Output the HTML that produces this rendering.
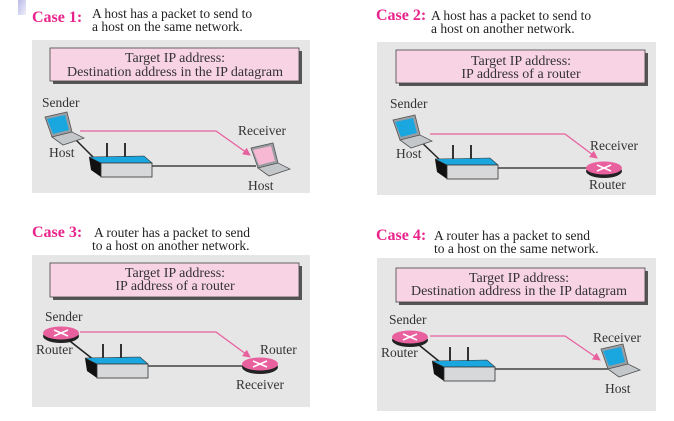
<!DOCTYPE html>
<html><head><meta charset="utf-8"><style>
html,body{margin:0;padding:0;background:#fff;width:674px;height:421px;overflow:hidden}
svg{display:block}
text{font-family:"Liberation Serif",serif;fill:#222}
.t{font-size:16px;font-weight:bold;fill:#e8248c}
.d{font-size:13.5px}
.l{font-size:13.5px;fill:#333}
.p{font-size:14px;fill:#333}
</style></head><body>
<svg width="674" height="421" viewBox="0 0 674 421" xmlns="http://www.w3.org/2000/svg">
<defs>
<linearGradient id="g" x1="0" y1="0" x2="1" y2="1"><stop offset="0" stop-color="#b9b9e8"/><stop offset="1" stop-color="#f0f0fb"/></linearGradient>
<marker id="ar" markerWidth="8" markerHeight="8" refX="7" refY="4" orient="auto" markerUnits="userSpaceOnUse"><path d="M0,0 L8,4 L0,8 z" fill="#e8609e"/></marker>
<g id="hub">
<path d="M0,1 L12,7 L12,21 L2,14 z" fill="#111"/>
<path d="M0,1 L55,0 L63,7 L12,7 z" fill="#1aa7e0" stroke="#333" stroke-width="0.6"/>
<rect x="12" y="7" width="51" height="14" fill="#d6d8da" stroke="#333" stroke-width="0.8"/>
<line x1="18" y1="-13" x2="18" y2="1" stroke="#333" stroke-width="2"/>
<line x1="36" y1="-13" x2="36" y2="1" stroke="#333" stroke-width="2"/>
</g>
<g id="lapB">
<path d="M1,0 L23,-5 L28,15 L8,20 z" fill="#9a9ea2" stroke="#555" stroke-width="0.8"/>
<path d="M3,2 L21,-2 L25,13 L9,17 z" fill="#1aa7e0"/>
<path d="M8,20 L28,15 L40,21 L19,28 z" fill="#c4c7ca" stroke="#555" stroke-width="0.8"/>
</g>
<g id="lapP">
<path d="M1,0 L23,-5 L28,15 L8,20 z" fill="#9a9ea2" stroke="#555" stroke-width="0.8"/>
<path d="M3,2 L21,-2 L25,13 L9,17 z" fill="#f6b8d2"/>
<path d="M8,20 L28,15 L40,21 L19,28 z" fill="#c4c7ca" stroke="#555" stroke-width="0.8"/>
</g>
<g id="rt">
<ellipse cx="0" cy="3" rx="18" ry="7" fill="#222"/>
<ellipse cx="0" cy="0" rx="18" ry="6.5" fill="#e8609e"/>
<path d="M-7,-3 L7,3 M-7,3 L7,-3" stroke="#fff" stroke-width="1.5"/>
</g>
</defs>
<rect x="18" y="0" width="8" height="15" fill="url(#g)"/>

<!-- Panel 1 -->
<text class="t" x="32" y="22">Case 1:</text>
<text class="d" x="92" y="18">A host has a packet to send to</text>
<text class="d" x="92" y="31">a host on the same network.</text>
<rect x="32" y="40" width="278" height="153" fill="#e6e6e6"/>
<rect x="53" y="51" width="249" height="33" fill="#555"/>
<rect x="50" y="48" width="249" height="33" fill="#f8d3e4" stroke="#444" stroke-width="0.8"/>
<text class="p" x="175" y="62" text-anchor="middle">Target IP address:</text>
<text class="p" x="175" y="76" text-anchor="middle">Destination address in the IP datagram</text>
<text class="l" x="42" y="107">Sender</text>
<text class="l" x="49" y="157">Host</text>
<text class="l" x="238" y="135">Receiver</text>
<text class="l" x="248" y="190">Host</text>
<line x1="70" y1="134" x2="96" y2="160" stroke="#222" stroke-width="1.5"/>
<line x1="152" y1="166" x2="256" y2="166" stroke="#222" stroke-width="1.2"/>
<use href="#lapB" x="44" y="117"/>
<use href="#hub" x="89" y="156"/>
<use href="#lapP" x="250" y="148"/>
<polyline points="80,131 216,131 250,155" fill="none" stroke="#e8609e" stroke-width="1.3" marker-end="url(#ar)"/>

<!-- Panel 2 -->
<text class="t" x="376" y="20">Case 2:</text>
<text class="d" x="431" y="20">A host has a packet to send to</text>
<text class="d" x="431" y="33">a host on another network.</text>
<rect x="377" y="42" width="279" height="153" fill="#e6e6e6"/>
<rect x="399" y="53" width="249" height="33" fill="#555"/>
<rect x="396" y="50" width="249" height="33" fill="#f8d3e4" stroke="#444" stroke-width="0.8"/>
<text class="p" x="521" y="65" text-anchor="middle">Target IP address:</text>
<text class="p" x="521" y="78" text-anchor="middle">IP address of a router</text>
<text class="l" x="390" y="108">Sender</text>
<text class="l" x="396" y="158">Host</text>
<text class="l" x="590" y="150">Receiver</text>
<text class="l" x="589" y="189">Router</text>
<line x1="416" y1="137" x2="442" y2="162" stroke="#222" stroke-width="1.5"/>
<line x1="497" y1="168" x2="590" y2="168" stroke="#222" stroke-width="1.2"/>
<use href="#lapB" x="392" y="120"/>
<use href="#hub" x="435" y="158"/>
<use href="#rt" x="604" y="168"/>
<polyline points="430,134 565,134 597,158" fill="none" stroke="#e8609e" stroke-width="1.3" marker-end="url(#ar)"/>

<!-- Panel 3 -->
<text class="t" x="32" y="237">Case 3:</text>
<text class="d" x="94" y="237">A router has a packet to send</text>
<text class="d" x="92" y="250">to a host on another network.</text>
<rect x="32" y="255" width="278" height="152" fill="#e6e6e6"/>
<rect x="53" y="266" width="249" height="34" fill="#555"/>
<rect x="50" y="263" width="249" height="34" fill="#f8d3e4" stroke="#444" stroke-width="0.8"/>
<text class="p" x="175" y="277" text-anchor="middle">Target IP address:</text>
<text class="p" x="175" y="290" text-anchor="middle">IP address of a router</text>
<text class="l" x="45" y="321">Sender</text>
<text class="l" x="36" y="354">Router</text>
<text class="l" x="260" y="354">Router</text>
<text class="l" x="236" y="389">Receiver</text>
<line x1="66" y1="338" x2="94" y2="360" stroke="#222" stroke-width="1.5"/>
<line x1="148" y1="366" x2="245" y2="366" stroke="#222" stroke-width="1.2"/>
<use href="#rt" x="61" y="333"/>
<use href="#hub" x="85" y="357"/>
<use href="#rt" x="260" y="364"/>
<polyline points="80,332 216,332 250,357" fill="none" stroke="#e8609e" stroke-width="1.3" marker-end="url(#ar)"/>

<!-- Panel 4 -->
<text class="t" x="376" y="240">Case 4:</text>
<text class="d" x="434" y="240">A router has a packet to send</text>
<text class="d" x="434" y="253">to a host on the same network.</text>
<rect x="377" y="258" width="279" height="153" fill="#e6e6e6"/>
<rect x="399" y="271" width="249" height="34" fill="#555"/>
<rect x="396" y="268" width="249" height="34" fill="#f8d3e4" stroke="#444" stroke-width="0.8"/>
<text class="p" x="519" y="282" text-anchor="middle">Target IP address:</text>
<text class="p" x="519" y="295" text-anchor="middle">Destination address in the IP datagram</text>
<text class="l" x="389" y="324">Sender</text>
<text class="l" x="381" y="357">Router</text>
<text class="l" x="593" y="342">Receiver</text>
<text class="l" x="605" y="393">Host</text>
<line x1="414" y1="341" x2="440" y2="362" stroke="#222" stroke-width="1.5"/>
<line x1="494" y1="369" x2="608" y2="369" stroke="#222" stroke-width="1.2"/>
<use href="#rt" x="410" y="337"/>
<use href="#hub" x="432" y="360"/>
<use href="#lapB" x="600" y="349"/>
<polyline points="430,336 565,336 600,360" fill="none" stroke="#e8609e" stroke-width="1.3" marker-end="url(#ar)"/>
</svg>
</body></html>
